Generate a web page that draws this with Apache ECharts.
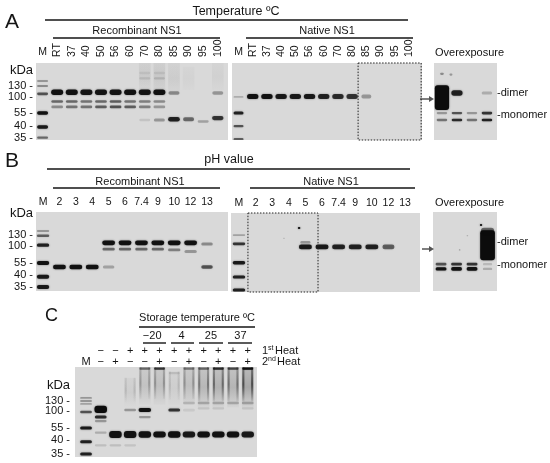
<!DOCTYPE html>
<html><head><meta charset="utf-8">
<script src="https://cdn.jsdelivr.net/npm/echarts@6.0.0/dist/echarts.min.js"></script>
<style>html,body{margin:0;padding:0;background:#fff}#c{width:550px;height:463px}</style>
</head><body><div id="c"></div>
<script>
// ---------- lane / tick labels ----------
const tempLanes = ['M','RT','37','40','50','56','60','70','80','85','90','95','100'];
const phLanes = ['M','2','3','4','5','6','7.4','9','10','12','13'];
const heat1Row = ['', '\u2212','\u2212','+','+','+','+','+','+','+','+','+'];
const heat2Row = ['M','\u2212','+','\u2212','\u2212','+','\u2212','+','\u2212','+','\u2212','+'];
const storageGroups = ['\u221220','4','25','37'];
const storageGroupPos = [4.5, 6.5, 8.5, 10.5];
const kdaLabels = ['kDa','130','100','55','40','35'];
// migration positions (% of blot height) of the kDa labels
const aTickPos = [9, 30, 44, 65, 82, 97];
const bTickPos = [1.3, 29, 43, 64.5, 80, 95];
const cTickPos = [21, 37.8, 49, 67.8, 81, 96.7];

// ---------- bands: [lane, migration %, intensity, height %, width (lanes)] ----------
const aRecBands = [
  [0,23.4,0.3,2.5,0.75],[0,29.9,0.35,2.5,0.75],[0,40,0.6,3.5,0.75],[0,65,0.95,4.5,0.75],[0,83,0.9,4.5,0.75],[0,97,0.5,3,0.75],
  [1,38,0.95,7,0.82],[2,38,0.95,7,0.82],[3,38,0.93,7,0.82],[4,38,0.93,7,0.82],[5,38,0.93,7,0.82],[6,38,0.95,7,0.82],[7,38,0.93,7,0.82],[8,38,0.95,7,0.82],
  [9,39,0.35,4.5,0.75],[12,39,0.3,4.5,0.75],[8,20,0.13,3,0.75],[7,20,0.1,3,0.75],[8,13,0.08,3,0.75],[7,13,0.07,3,0.75],
  [1,50,0.5,3.5,0.8],[2,50,0.5,3.5,0.8],[3,50,0.45,3.5,0.8],[4,50,0.5,3.5,0.8],[5,50,0.55,3.5,0.8],[6,50,0.45,3.5,0.8],[7,50,0.4,3.5,0.8],[8,50,0.35,3.5,0.8],
  [1,57,0.35,3.5,0.8],[2,57,0.45,3.5,0.8],[3,57,0.45,3.5,0.8],[4,57,0.55,3.5,0.8],[5,57,0.6,3.5,0.8],[6,57,0.55,3.5,0.8],[7,57,0.4,3.5,0.8],[8,57,0.3,3.5,0.8],
  [7,74,0.1,3,0.75],[8,74,0.3,4,0.75],[9,73,0.85,6,0.8],[10,73,0.5,5,0.75],[11,76,0.25,3,0.75],[12,71.5,0.75,5.5,0.78]
];
// smears: [lane, top %, bottom %, alpha top, alpha middle, alpha bottom, edge strength]
const aRecSmears = [
  [7,0,35,0.0,0.07,0.02,0],[8,0,35,0.0,0.08,0.03,0],[9,0,40,0.0,0.06,0.02,0],[10,5,35,0.0,0.03,0.01,0],[12,0,35,0.0,0.04,0.01,0]
];
const aNatBands = [
  [0,44,0.2,2.5,0.7],[0,65,0.85,4,0.7],[0,82,0.6,3,0.7],[0,99,0.55,3,0.7],
  [1,43.5,0.95,6.5,0.8],[2,43.5,0.95,6.5,0.8],[3,43.5,0.9,6.5,0.8],[4,43.5,0.9,6.5,0.8],[5,43.5,0.9,6.5,0.8],
  [6,43.5,0.85,6.5,0.8],[7,43.5,0.8,6.5,0.8],[8,43.5,0.75,6.5,0.8],[9,43.5,0.3,5,0.7]
];
const aNatBox = [[8.42, 12.86, 0, 100]];
const aOverBands = [
  [0,45,1,32,0.95],[0,14,0.35,3,0.25],[0.6,15,0.3,3,0.2],
  [1,39,0.85,7,0.75],[3,39,0.2,4,0.7],
  [0,65,0.3,3,0.7],[0,74,0.45,3,0.7],[1,65,0.6,3,0.7],[1,74,0.8,3.5,0.7],
  [2,65,0.3,3,0.7],[2,74,0.45,3,0.7],[3,65,0.75,3.5,0.7],[3,74,0.85,3.5,0.7]
];
const bRecBands = [
  [0,24,0.3,2.5,0.75],[0,30,0.55,3,0.75],[0,42,0.85,4,0.75],[0,64.5,0.95,5,0.75],[0,82,0.9,5,0.75],[0,95,0.9,5,0.75],
  [4,39,0.95,6,0.78],[5,39,0.95,6,0.78],[6,39,0.95,6,0.78],[7,39,0.95,6,0.78],[8,39,0.95,6,0.78],[9,39,0.95,6,0.78],[10,40.5,0.35,4,0.7],
  [4,47,0.5,3.5,0.75],[5,47,0.5,3.5,0.75],[6,47,0.5,3.5,0.75],[7,47,0.5,3.5,0.75],[8,48,0.4,3.5,0.75],[9,50,0.3,4,0.75],
  [1,69.6,0.95,5.5,0.78],[2,69.6,0.95,5.5,0.78],[3,69.6,0.95,5.5,0.78],[4,69.6,0.25,4,0.7],[10,69.6,0.6,4.5,0.7]
];
const bNatBands = [
  [0,28,0.25,2.5,0.75],[0,39,0.75,3.5,0.75],[0,63,0.9,4.5,0.75],[0,81,0.85,4,0.75],[0,97.5,0.85,4,0.75],
  [4,43,0.9,6,0.78],[5,43,0.9,6,0.78],[6,43,0.85,6,0.78],[7,43,0.85,6,0.78],[8,43,0.85,6,0.78],[9,43,0.55,6,0.72],
  [4,37,0.3,3,0.6],[3.62,19,0.95,2.5,0.15],[2.71,32,0.2,1.5,0.1]
];
const bNatBox = [[0.54, 4.76, 0, 100]];
const bOverBands = [
  [0,66,0.6,3.5,0.7],[0,72,0.95,4,0.7],[1,66,0.75,3.5,0.7],[1,72,0.95,4.5,0.7],[2,66,0.75,3.5,0.7],[2,72,0.95,4.5,0.7],
  [3,66,0.15,3,0.6],[3,72,0.2,3,0.6],
  [3,42,1,38,0.95],[3,24,0.5,8,0.85],[2.58,16.5,0.95,2.5,0.15],[1.7,30,0.2,1.5,0.1],[1.2,48,0.3,1.5,0.1]
];
const cBands = [
  [0,34.4,0.3,2,0.8],[0,37.8,0.3,2,0.8],[0,41,0.25,2,0.8],[0,50,0.6,3,0.8],[0,67.8,0.9,3.5,0.8],[0,83,0.85,3.5,0.8],[0,96.7,0.85,3.5,0.8],
  [1,47,1,8,0.85],[1,55.6,0.8,3.5,0.8],[1,60,0.3,2.5,0.8],[1,73,0.2,2.5,0.8],
  [2,75,0.95,8,0.85],[3,75,0.95,8,0.85],[4,75,0.95,7,0.85],[5,75,0.95,6.5,0.85],[6,75,0.95,7,0.85],
  [7,75,0.9,6.5,0.85],[8,75,0.95,6.5,0.85],[9,75,0.95,6.5,0.85],[10,75,0.95,6.5,0.85],[11,75,0.9,6.5,0.85],
  [3,47.8,0.3,3,0.8],[4,47.8,0.95,4.5,0.85],[4,55.6,0.3,2.5,0.8],[6,47.8,0.75,3.5,0.8],[7,48,0.08,3,0.8],
  [7,40,0.15,3,0.8],[8,40,0.2,3,0.8],[9,40,0.2,3,0.8],[10,40,0.2,3,0.8],[11,40,0.22,3,0.8],
  [8,46,0.1,2.5,0.8],[9,46,0.1,2.5,0.8],[11,46,0.1,2.5,0.8],
  [1,87,0.12,2.5,0.8],[2,87,0.12,2.5,0.8],[3,87,0.1,2.5,0.8]
];
const cSmears = [
  [3,12,45,0.0,0.1,0.0,1],[4,0,42,0.45,0.2,0.02,1],[5,0,42,0.7,0.22,0.03,1],[6,5,42,0.1,0.1,0.02,1],
  [7,0,42,0.4,0.22,0.04,1],[8,0,45,0.45,0.3,0.04,1],[9,0,45,0.75,0.35,0.04,1],[10,0,45,0.6,0.32,0.04,1],[11,0,45,0.95,0.45,0.05,1]
];

// ---------- rendering ----------
const FONT = "'Liberation Sans', Arial, Helvetica, sans-serif";
const INK = '#151515';
const rgba = a => 'rgba(12,12,12,' + Math.max(0, Math.min(1, a)) + ')';

function bandItem(params, api) {
  const x = api.value(0), y = api.value(1), a = api.value(2), h = api.value(3), w = api.value(4);
  const c = api.coord([x, y]);
  const s = api.size([w, h]);
  const pw = s[0], ph = s[1];
  return { type: 'rect',
    shape: { x: c[0] - pw / 2, y: c[1] - ph / 2, width: pw, height: ph, r: Math.min(ph / 2, pw / 2, 3) },
    style: { fill: rgba(a), shadowBlur: 2, shadowColor: 'rgba(0,0,0,' + (a * 0.55) + ')' } };
}
function smearItem(params, api) {
  const x = api.value(0);
  const c0 = api.coord([x, api.value(1)]), c1 = api.coord([x, api.value(2)]);
  const pw = api.size([0.8, 1])[0];
  const h = c1[1] - c0[1];
  const aT = api.value(3), aM = api.value(4), aB = api.value(5), edge = api.value(6);
  const grad = k => new echarts.graphic.LinearGradient(0, 0, 0, 1, [
      { offset: 0, color: rgba(aM * 0.6 * k) },
      { offset: 0.5, color: rgba(aM * k) },
      { offset: 1, color: rgba(aB * k) }]);
  const left = c0[0] - pw / 2;
  const children = [
    { type: 'rect', shape: { x: left, y: c0[1], width: pw, height: h }, style: { fill: grad(edge ? 0.55 : 1), shadowBlur: edge ? 0 : 3, shadowColor: rgba(aM) } }
  ];
  if (edge) {
    children.push(
      { type: 'rect', shape: { x: left + 0.5, y: c0[1], width: 2, height: h * 0.85 }, style: { fill: grad(1.1 * edge), shadowBlur: 1, shadowColor: rgba(aM) } },
      { type: 'rect', shape: { x: left + pw - 2.5, y: c0[1], width: 2, height: h * 0.85 }, style: { fill: grad(1.1 * edge), shadowBlur: 1, shadowColor: rgba(aM) } },
      { type: 'rect', shape: { x: left + 0.5, y: c0[1] + 0.5, width: pw - 1, height: 2.2, r: 1 }, style: { fill: rgba(aT), shadowBlur: 1, shadowColor: rgba(aT * 0.6) } });
  }
  return { type: 'group', children: children };
}
function boxItem(params, api) {
  const c0 = api.coord([api.value(0), api.value(2)]), c1 = api.coord([api.value(1), api.value(3)]);
  return { type: 'rect', shape: { x: c0[0], y: c0[1], width: c1[0] - c0[0], height: c1[1] - c0[1] },
    style: { fill: 'none', stroke: '#222', lineWidth: 1, lineDash: [1.5, 1.5] } };
}

const grids = [
  { left: 36, top: 63, width: 192, height: 77 },
  { left: 232, top: 63, width: 190, height: 77 },
  { left: 434, top: 63, width: 63, height: 77 },
  { left: 36, top: 212, width: 192, height: 79 },
  { left: 231, top: 213, width: 189, height: 79 },
  { left: 433, top: 212, width: 64, height: 79 },
  { left: 75, top: 367, width: 182, height: 90 }
].map(g => Object.assign(g, { show: true, backgroundColor: '#d9d9d9', borderWidth: 0, containLabel: false, outerBoundsMode: 'none' }));

const xAxes = [], yAxes = [];
function addX(grid, min, max, label, offset) {
  xAxes.push({ type: 'value', gridIndex: grid, min: min, max: max, position: 'top', offset: offset || 0,
    axisLine: { show: false }, axisTick: { show: false }, splitLine: { show: false },
    axisLabel: label ? Object.assign({ show: true, color: INK, fontFamily: FONT, fontSize: 10.5 }, label) : { show: false } });
  return xAxes.length - 1;
}
function addY(grid, ticks, margin) {
  yAxes.push({ type: 'value', gridIndex: grid, min: 0, max: 100, inverse: true,
    axisLine: { show: false }, axisTick: { show: false }, splitLine: { show: false },
    axisLabel: ticks ? { show: true, customValues: ticks, margin: margin, color: INK, fontFamily: FONT, fontSize: 11,
      formatter: v => { const i = ticks.indexOf(v); return i === 0 ? '{k|kDa}' : kdaLabels[i] + ' -'; },
      rich: { k: { fontSize: 13, fontFamily: FONT, color: INK } } } : { show: false } });
  return yAxes.length - 1;
}
const laneIdx = arr => arr.map((_, i) => i);

// panel A
const xA0 = addX(0, -0.45, 12.7, { customValues: laneIdx(tempLanes).slice(1), rotate: 90, margin: 6, formatter: v => tempLanes[Math.round(v)] });
addX(0, -0.45, 12.7, { customValues: [0], margin: 5, formatter: () => tempLanes[0] });
const yA0 = addY(0, aTickPos, 3);
const xA1 = addX(1, -0.46, 12.92, { customValues: laneIdx(tempLanes).slice(1), rotate: 90, margin: 6, formatter: v => tempLanes[Math.round(v)] });
addX(1, -0.46, 12.92, { customValues: [0], margin: 5, formatter: () => tempLanes[0] });
const yA1 = addY(1, null);
const xA2 = addX(2, -0.53, 3.67, null);
const yA2 = addY(2, null);
// panel B
const xB0 = addX(3, -0.43, 11.28, { customValues: laneIdx(phLanes), margin: 4, formatter: v => phLanes[Math.round(v)] });
const yB0 = addY(3, bTickPos, 3);
const xB1 = addX(4, -0.48, 10.9, { customValues: laneIdx(phLanes), margin: 4, formatter: v => phLanes[Math.round(v)] });
const yB1 = addY(4, null);
const xB2 = addX(5, -0.52, 3.61, null);
const yB2 = addY(5, null);
// panel C
const xC0 = addX(6, -0.75, 11.63, { customValues: laneIdx(heat2Row), margin: 0, fontSize: 11, formatter: v => heat2Row[Math.round(v)] });
addX(6, -0.75, 11.63, { customValues: laneIdx(heat1Row).slice(1), margin: 0, fontSize: 11, formatter: v => heat1Row[Math.round(v)] }, 11);
addX(6, -0.75, 11.63, { customValues: storageGroupPos, margin: 0, fontSize: 11, formatter: v => storageGroups[storageGroupPos.indexOf(v)] }, 25.5);
const yC0 = addY(6, cTickPos, 5);

function bandSeries(xi, yi, data) { return { type: 'custom', xAxisIndex: xi, yAxisIndex: yi, renderItem: bandItem, data: data, clip: true, silent: true }; }
function smearSeries(xi, yi, data) { return { type: 'custom', xAxisIndex: xi, yAxisIndex: yi, renderItem: smearItem, data: data, clip: true, silent: true }; }
function boxSeries(xi, yi, data) { return { type: 'custom', xAxisIndex: xi, yAxisIndex: yi, renderItem: boxItem, data: data, clip: false, silent: true, z: 5 }; }

const series = [
  smearSeries(xA0, yA0, aRecSmears), bandSeries(xA0, yA0, aRecBands),
  bandSeries(xA1, yA1, aNatBands), boxSeries(xA1, yA1, aNatBox),
  bandSeries(xA2, yA2, aOverBands),
  bandSeries(xB0, yB0, bRecBands),
  bandSeries(xB1, yB1, bNatBands), boxSeries(xB1, yB1, bNatBox),
  bandSeries(xB2, yB2, bOverBands),
  smearSeries(xC0, yC0, cSmears), bandSeries(xC0, yC0, cBands)
];

// ---------- titles, brackets, arrows (layout) ----------
function txt(x, y, text, size, align) {
  return { type: 'text', x: x, y: y, silent: true,
    style: { text: text, fill: INK, font: size + 'px ' + FONT, align: align || 'left', verticalAlign: 'middle' } };
}
function ln(x1, y1, x2, y2, w) {
  return { type: 'line', silent: true, shape: { x1: x1, y1: y1, x2: x2, y2: y2 }, style: { stroke: INK, lineWidth: w || 1.4 } };
}
function arrow(x1, x2, y) {
  return [
    { type: 'line', silent: true, shape: { x1: x1, y1: y, x2: x2 - 4, y2: y }, style: { stroke: '#555', lineWidth: 1.5 } },
    { type: 'polygon', silent: true, shape: { points: [[x2, y], [x2 - 5, y - 3], [x2 - 5, y + 3]] }, style: { fill: '#555' } }
  ];
}
const graphic = [
  txt(5, 22, 'A', 21), txt(236, 12, 'Temperature \u00baC', 12.5, 'center'), ln(45, 20, 408, 20),
  txt(137, 31, 'Recombinant NS1', 11, 'center'), ln(53, 38, 220, 38),
  txt(327, 31, 'Native NS1', 11, 'center'), ln(246, 38, 413, 38),
  txt(435, 53, 'Overexposure', 11), txt(497, 93, '-dimer', 11), txt(497, 115, '-monomer', 11),
  ...arrow(420, 434, 99),
  txt(5, 161, 'B', 21), txt(229, 160, 'pH value', 12.5, 'center'), ln(47, 169, 410, 169),
  txt(140, 182, 'Recombinant NS1', 11, 'center'), ln(53, 188, 220, 188),
  txt(331, 182, 'Native NS1', 11, 'center'), ln(250, 188, 415, 188),
  txt(435, 203, 'Overexposure', 11), txt(497, 242, '-dimer', 11), txt(497, 265, '-monomer', 11),
  ...arrow(422, 434, 249),
  txt(45, 316, 'C', 18), txt(197, 318, 'Storage temperature \u00baC', 11, 'center'), ln(139, 327, 255, 327),
  ln(143, 343, 166, 343), ln(171, 343, 194, 343), ln(199, 343, 223, 343), ln(228, 343, 252, 343),
  txt(262, 351, '1', 11), txt(268, 348, 'st', 7), txt(275, 351, 'Heat', 11),
  txt(262, 362, '2', 11), txt(268, 359, 'nd', 7), txt(277, 362, 'Heat', 11)
];

const chart = echarts.init(document.getElementById('c'), null, { renderer: 'canvas' });
chart.setOption({
  backgroundColor: '#ffffff', animation: false,
  textStyle: { fontFamily: FONT },
  grid: grids, xAxis: xAxes, yAxis: yAxes, series: series, graphic: graphic
});
</script></body></html>
